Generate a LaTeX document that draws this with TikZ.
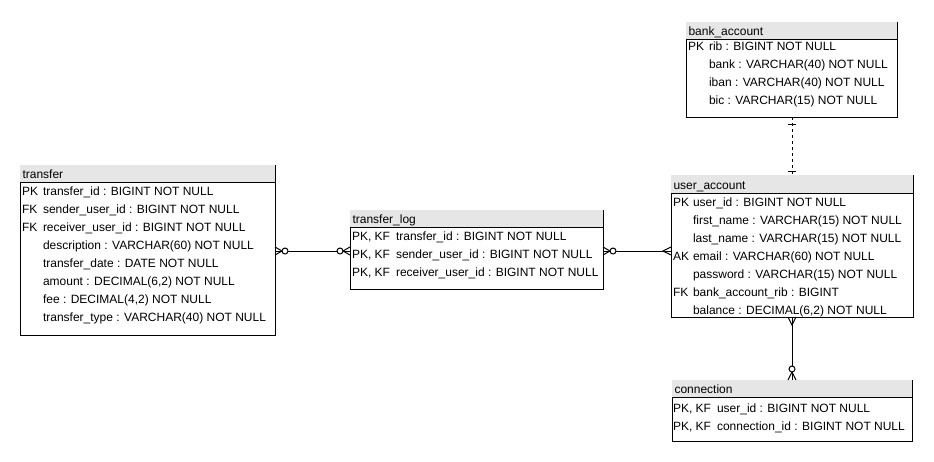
\documentclass[tikz,border=0pt]{standalone}
\usepackage{fontspec}
\setmainfont{Liberation Sans}
\usetikzlibrary{calc,fit}
\definecolor{hdr}{HTML}{E6E6E6}
\tikzset{
  tbltxt/.style={anchor=base west, inner sep=0pt, outer sep=0pt, font=\fontsize{9}{10}\selectfont},
  tblframe/.style={draw=black, line width=0.75pt},
  relline/.style={draw=black, line width=0.75pt},
  relcirc/.style={draw=black, line width=0.75pt, fill=white},
}
% name, left, right, top, header bottom, bottom, title
\newcommand\ertable[7]{%
  \node[fit={(#2,#4) (#3,#6)}, inner sep=0pt, outer sep=0pt] (#1) {};
  \fill[hdr] (#2,#4) rectangle (#3,#5);
  \draw[tblframe] (#2,#5) rectangle (#3,#6);
  \draw[tblframe] (#3,#4) -- (#3,#5);
  \node[tbltxt] (#1-title) at ({#2+2.5},{(#4+#5)/2+5.3}) {#7};
}
% name, x, y(center), text
\newcommand\ertext[4]{%
  \node[tbltxt] (#1) at (#2,{#3+5.3}) {#4};
}
\begin{document}
\begin{tikzpicture}[x=0.75pt,y=-0.75pt]
\fill[white] (0,0) rectangle (934,461);
\useasboundingbox (0,0) rectangle (934,461);

% ---------- transfer ----------
\ertable{transfer}{20}{275}{165}{182}{335}{transfer}
\ertext{tr1k}{22}{190.5}{PK}
\ertext{tr1f}{43}{190.5}{transfer\_id : BIGINT NOT NULL}
\ertext{tr2k}{22}{208.5}{FK}
\ertext{tr2f}{43}{208.5}{sender\_user\_id : BIGINT NOT NULL}
\ertext{tr3k}{22}{226.5}{FK}
\ertext{tr3f}{43}{226.5}{receiver\_user\_id : BIGINT NOT NULL}
\ertext{tr4f}{43}{244.5}{description : VARCHAR(60) NOT NULL}
\ertext{tr5f}{43}{262.5}{transfer\_date : DATE NOT NULL}
\ertext{tr6f}{43}{280.5}{amount : DECIMAL(6,2) NOT NULL}
\ertext{tr7f}{43}{298.5}{fee : DECIMAL(4,2) NOT NULL}
\ertext{tr8f}{43}{316.5}{transfer\_type : VARCHAR(40) NOT NULL}

% ---------- bank_account ----------
\ertable{bank}{686}{897}{22}{39}{117}{bank\_account}
\ertext{ba1k}{688}{45.5}{PK}
\ertext{ba1f}{709}{45.5}{rib : BIGINT NOT NULL}
\ertext{ba2f}{709}{63.5}{bank : VARCHAR(40) NOT NULL}
\ertext{ba3f}{709}{81.5}{iban : VARCHAR(40) NOT NULL}
\ertext{ba4f}{709}{99.5}{bic : VARCHAR(15) NOT NULL}

% ---------- transfer_log ----------
\ertable{tlog}{350}{603}{210}{227}{289}{transfer\_log}
\ertext{tl1k}{352}{235.5}{PK, KF}
\ertext{tl1f}{396}{235.5}{transfer\_id : BIGINT NOT NULL}
\ertext{tl2k}{352}{253.5}{PK, KF}
\ertext{tl2f}{396}{253.5}{sender\_user\_id : BIGINT NOT NULL}
\ertext{tl3k}{352}{271.5}{PK, KF}
\ertext{tl3f}{396}{271.5}{receiver\_user\_id : BIGINT NOT NULL}

% ---------- user_account ----------
\ertable{user}{671}{913}{175}{193}{317}{user\_account}
\ertext{ua1k}{673}{201.5}{PK}
\ertext{ua1f}{693}{201.5}{user\_id : BIGINT NOT NULL}
\ertext{ua2f}{693}{219.5}{first\_name : VARCHAR(15) NOT NULL}
\ertext{ua3f}{693}{237.5}{last\_name : VARCHAR(15) NOT NULL}
\ertext{ua4k}{673}{255.5}{AK}
\ertext{ua4f}{693}{255.5}{email : VARCHAR(60) NOT NULL}
\ertext{ua5f}{693}{273.5}{password : VARCHAR(15) NOT NULL}
\ertext{ua6k}{673}{291.5}{FK}
\ertext{ua6f}{693}{291.5}{bank\_account\_rib : BIGINT}
\ertext{ua7f}{693}{309.5}{balance : DECIMAL(6,2) NOT NULL}

% ---------- connection ----------
\ertable{conn}{672}{912}{380}{397}{441}{connection}
\ertext{co1k}{673}{407.5}{PK, KF}
\ertext{co1f}{717}{407.5}{user\_id : BIGINT NOT NULL}
\ertext{co2k}{673}{425.5}{PK, KF}
\ertext{co2f}{717}{425.5}{connection\_id : BIGINT NOT NULL}

% ---------- relations ----------
\coordinate (c1) at (0,251);

% transfer -- transfer_log (zero-to-many both ends)
\draw[relline] (transfer.east |- c1) -- (tlog.west |- c1);
\draw[relline] ($(transfer.east |- c1)+(0,-4)$) -- ++(7,4) -- ++(-7,4);
\draw[relcirc] ($(transfer.east |- c1)+(10,0)$) circle[radius=2.25pt];
\draw[relline] ($(tlog.west |- c1)+(0,-4)$) -- ++(-7,4) -- ++(7,4);
\draw[relcirc] ($(tlog.west |- c1)+(-10,0)$) circle[radius=2.25pt];

% transfer_log -- user_account
\draw[relline] (tlog.east |- c1) -- (user.west |- c1);
\draw[relline] ($(tlog.east |- c1)+(0,-4)$) -- ++(7,4) -- ++(-7,4);
\draw[relcirc] ($(tlog.east |- c1)+(10,0)$) circle[radius=2.25pt];
\draw[relline] ($(user.west |- c1)+(0,-4)$) -- ++(-8,4) -- ++(8,4);

% bank_account -- user_account (dashed, one to one)
\coordinate (bb) at (bank.south -| user.north);
\draw[relline, dash pattern=on 2.25pt off 2.25pt] (bb) -- (user.north);
\draw[relline] ($(bb)+(-4,7)$) -- ++(8,0);
\draw[relline] ($(user.north)+(-4,-4)$) -- ++(8,0);

% user_account -- connection
\coordinate (ct) at (conn.north -| user.south);
\draw[relline] (user.south) -- (ct);
\draw[relline] ($(user.south)+(-4,0)$) -- ++(4,8) -- ++(4,-8);
\draw[relline] ($(ct)+(-4,0)$) -- ++(4,-8) -- ++(4,8);
\draw[relcirc] ($(ct)+(0,-11)$) circle[radius=2.25pt];
\end{tikzpicture}
\end{document}
